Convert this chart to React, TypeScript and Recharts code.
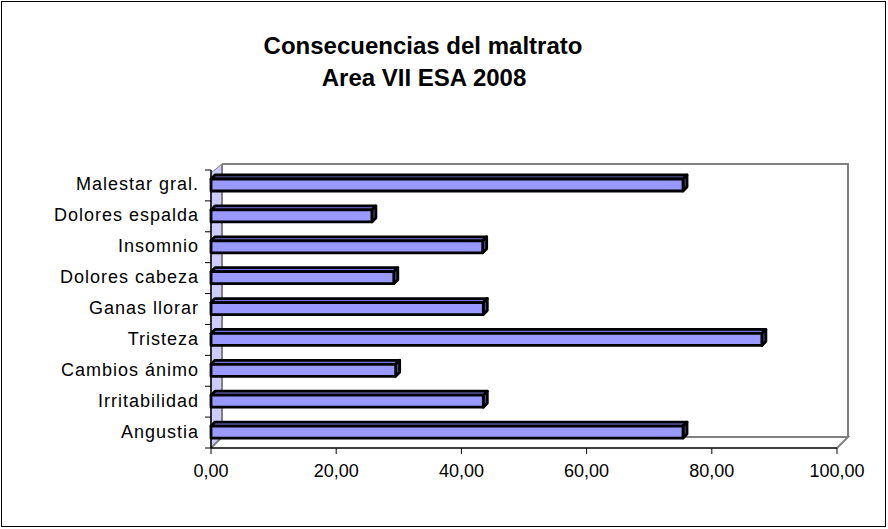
import React from "react";
import { BarChart, Bar, XAxis, YAxis } from "recharts";

const categories = [
  "Malestar gral.",
  "Dolores espalda",
  "Insomnio",
  "Dolores cabeza",
  "Ganas llorar",
  "Tristeza",
  "Cambios ánimo",
  "Irritabilidad",
  "Angustia",
];
const percentages = [75.4, 25.7, 43.4, 29.2, 43.5, 88.0, 29.5, 43.5, 75.4];
const xTicks = [0, 20, 40, 60, 80, 100];

const data = categories.map((name, i) => ({ name, value: percentages[i] }));

const W = 888;
const H = 529;
// front plane of the plot, and the back wall behind it (fake 3D)
const PLOT = { left: 211, top: 170, right: 837, bottom: 448 };
const BACK = { left: 222, top: 164, right: 848, bottom: 437 };
const BAND = (PLOT.bottom - PLOT.top) / categories.length;
const FONT = "'Liberation Sans', Arial, sans-serif";

const Bar3D = (props: any) => {
  const { x, y, width, height } = props;
  const d = 4;
  return (
    <g stroke="#000" strokeWidth={2.8} strokeLinejoin="round">
      <polygon
        points={`${x},${y} ${x + d},${y - d} ${x + width + d},${y - d} ${x + width},${y}`}
        fill="#7777DD"
      />
      <polygon
        points={`${x + width},${y} ${x + width + d},${y - d} ${x + width + d},${y + height - d} ${x + width},${y + height}`}
        fill="#555599"
      />
      <rect x={x} y={y} width={width} height={height} fill="#9999FF" />
    </g>
  );
};

const CategoryTick = (props: any) => {
  const { x, y, payload, index } = props;
  return (
    <g>
      <text x={x} y={y} dy={5} textAnchor="end" fontSize={18} fontFamily={FONT} fill="#000" letterSpacing={1}>
        {payload.value}
      </text>
      <line x1={PLOT.left - 6} x2={PLOT.left} y1={y - BAND / 2} y2={y - BAND / 2} stroke="#000" />
      {index === categories.length - 1 && (
        <line x1={PLOT.left - 6} x2={PLOT.left} y1={y + BAND / 2} y2={y + BAND / 2} stroke="#000" />
      )}
    </g>
  );
};

const Walls = () => {
  const p = PLOT;
  const b = BACK;
  return (
    <svg width={W} height={H} style={{ position: "absolute", left: 0, top: 0 }}>
      <rect x={1.5} y={1.5} width={W - 4} height={H - 4} fill="#fff" stroke="#000" strokeWidth={1} />
      <text x={423} y={54} textAnchor="middle" fontSize={24} fontWeight="bold" fontFamily={FONT} fill="#000">
        Consecuencias del maltrato
      </text>
      <text x={424} y={86} textAnchor="middle" fontSize={24} fontWeight="bold" fontFamily={FONT} fill="#000">
        Area VII ESA 2008
      </text>
      <polygon
        points={`${p.left},${p.top + 3} ${b.left},${b.top} ${b.left},${b.bottom} ${p.left},${p.bottom}`}
        fill="#CCCCFF"
        stroke="#808080"
        strokeWidth={1}
      />
      <g stroke="#808080" strokeWidth={2} fill="none">
        <polyline points={`${b.left},${b.top} ${b.right},${b.top} ${b.right},${b.bottom}`} />
        <line x1={b.left} y1={b.top} x2={b.left} y2={b.bottom} />
        <polyline points={`${p.left},${p.bottom} ${b.left},${b.bottom} ${b.right},${b.bottom} ${p.right},${p.bottom}`} />
      </g>
    </svg>
  );
};

export default function App() {
  return (
    <div style={{ position: "absolute", left: 0, top: 0, width: W, height: H, background: "#fff" }}>
      <Walls />
      <div style={{ position: "absolute", left: 0, top: 0 }}>
        <BarChart
          width={W}
          height={H}
          data={data}
          layout="vertical"
          margin={{ top: PLOT.top, right: W - PLOT.right, bottom: H - PLOT.bottom - 36, left: 0 }}
        >
          <XAxis
            type="number"
            domain={[0, 100]}
            ticks={xTicks}
            height={36}
            tickFormatter={(v: number) => v.toFixed(2).replace(".", ",")}
            tick={{ fontSize: 18, fontFamily: FONT, fill: "#000" }}
            axisLine={{ stroke: "#000", strokeWidth: 1.5 }}
            tickLine={{ stroke: "#000" }}
            tickSize={6}
            tickMargin={10}
            interval={0}
          />
          <YAxis
            type="category"
            dataKey="name"
            width={PLOT.left}
            axisLine={{ stroke: "#000", strokeWidth: 1.5 }}
            tickLine={false}
            tickSize={0}
            tickMargin={12}
            tick={<CategoryTick />}
            interval={0}
          />
          <Bar dataKey="value" barSize={12} shape={<Bar3D />} isAnimationActive={false} />
        </BarChart>
      </div>
    </div>
  );
}
